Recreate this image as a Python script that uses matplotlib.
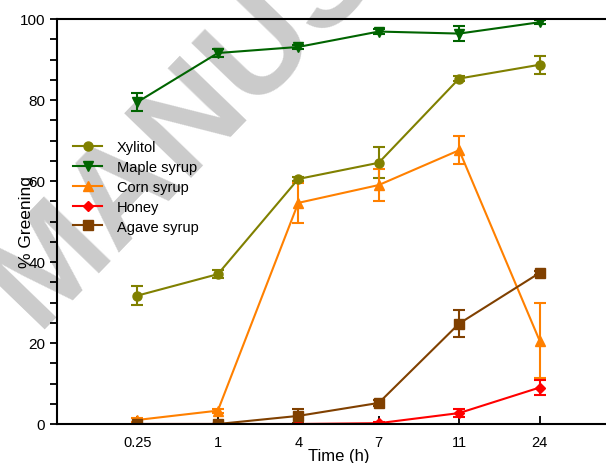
import numpy as np
import matplotlib
matplotlib.use("Agg")
import matplotlib.pyplot as plt

plt.rcParams['font.family'] = ['Liberation Sans', 'DejaVu Sans']

# Data
times = ['0.25', '1', '4', '7', '11', '24']

xylitol = [31.7, 37.0, 60.5, 64.5, 85.3, 88.7]
xylitol_err = [2.4, 1.0, 0.6, 3.8, 0.6, 2.2]

maple = [79.5, 91.6, 93.1, 96.9, 96.4, 99.2]
maple_err = [2.2, 1.0, 0.5, 0.7, 1.9, 0.5]

corn = [1.0, 3.3, 54.6, 59.0, 67.6, 20.6]
corn_err = [0.6, 0.5, 5.0, 4.0, 3.5, 9.3]

honey = [0.0, 0.0, 0.0, 0.2, 2.7, 9.0]
honey_err = [0.0, 0.0, 0.0, 0.2, 0.9, 1.8]

agave = [0.0, 0.0, 2.0, 5.2, 24.8, 37.3]
agave_err = [0.0, 0.0, 1.8, 0.8, 3.4, 0.5]

series = [
    ('Xylitol', xylitol, xylitol_err, '#808000', 'o'),
    ('Maple syrup', maple, maple_err, '#006400', 'v'),
    ('Corn syrup', corn, corn_err, '#ff8000', '^'),
    ('Honey', honey, honey_err, '#ff0000', 'D'),
    ('Agave syrup', agave, agave_err, '#804000', 's'),
]

fig = plt.figure(figsize=(6.06, 4.64), dpi=100)
ax = fig.add_axes([57/606, 1 - 425/464, 563/606, 405/464])

# watermark (behind everything)
fig.text(0.06, 0.29, 'MANUS', fontsize=98, fontweight='bold', color='#cbcbcb',
         rotation=46, rotation_mode='anchor', ha='left', va='baseline', zorder=-5)
ax.patch.set_alpha(0)
ax.set_zorder(2)

x = np.arange(1, len(times) + 1)
handles = []
for name, vals, err, col, mk in series:
    ms = 5.5 if mk == 'D' else 6.5
    eb = ax.errorbar(x, vals, yerr=err, color=col, marker=mk, markersize=ms,
                     linewidth=1.5, capsize=4.5, capthick=1.5, elinewidth=1.5,
                     label=name)
    handles.append(eb[0])

ax.set_xlim(0, 7)
ax.set_ylim(0, 100)
ax.set_xticks(x)
ax.set_xticklabels(times)
ax.set_yticks([0, 20, 40, 60, 80, 100])
ax.set_yticks(np.arange(0, 101, 5), minor=True)
ax.tick_params(axis='x', direction='in', length=6, width=1.3, labelsize=10.5, pad=8)
ax.tick_params(axis='y', which='both', direction='out', length=5, width=1.3, labelsize=11)

ax.spines['right'].set_visible(False)
for s in ['left', 'bottom', 'top']:
    ax.spines[s].set_linewidth(1.5)

ax.set_xlabel('Time (h)', fontsize=12, labelpad=-1)
ax.set_ylabel('% Greening', fontsize=12.5, labelpad=-10)

ax.legend(handles, [s[0] for s in series], loc='upper left',
          bbox_to_anchor=(0.005, 0.733), frameon=False,
          fontsize=10.5, handlelength=2.0, labelspacing=0.4, handletextpad=1.0)

fig.savefig('out.png', dpi=100)
